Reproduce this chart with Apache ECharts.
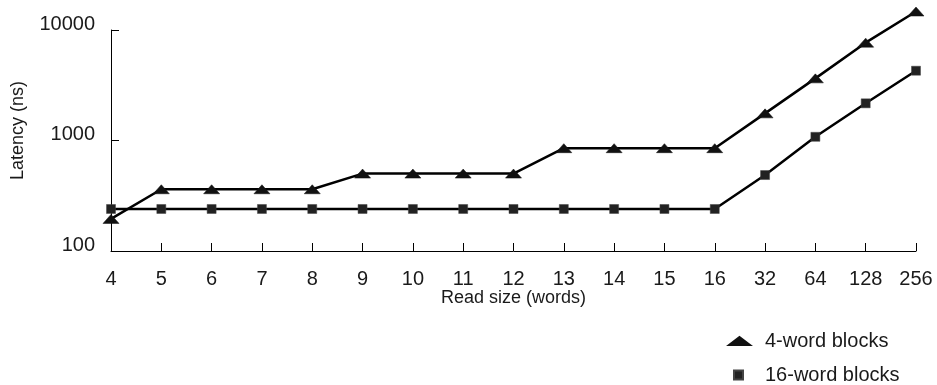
<!DOCTYPE html>
<html>
<head>
<meta charset="utf-8">
<script src="https://cdn.jsdelivr.net/npm/echarts@6/dist/echarts.min.js"></script>
<style>
  html, body { margin: 0; padding: 0; background: #fff; }
  #chart { width: 937px; height: 385px; }
</style>
</head>
<body>
<div id="chart"></div>
<script>
const categories = ['4','5','6','7','8','9','10','11','12','13','14','15','16','32','64','128','256'];
const fourWord = [195, 362, 362, 362, 362, 502, 502, 502, 502, 852, 852, 852, 852, 1760, 3650, 7680, 14700];
const sixteenWord = [240, 240, 240, 240, 240, 240, 240, 240, 240, 240, 240, 240, 240, 487, 1080, 2170, 4280];
const yTicks = [100, 1000, 10000];
const seriesNames = ['4-word blocks', '16-word blocks'];

const FONT = 'Liberation Sans';
const TXT = '#1a1a1a';

const chart = echarts.init(document.getElementById('chart'), null, { renderer: 'canvas' });
chart.setOption({
  animation: false,
  backgroundColor: '#ffffff',
  textStyle: { fontFamily: FONT, color: TXT },
  grid: { left: 111, right: 21, top: 30, bottom: 134, containLabel: false },
  xAxis: {
    type: 'category',
    data: categories,
    boundaryGap: false,
    name: 'Read size (words)',
    nameLocation: 'middle',
    nameGap: 38,
    nameMoveOverlap: false,
    nameTextStyle: { fontFamily: FONT, fontSize: 18, color: TXT },
    axisLine: { lineStyle: { color: '#000', width: 1 } },
    axisTick: { show: true, inside: true, length: 8, lineStyle: { color: '#000', width: 1 } },
    axisLabel: { fontFamily: FONT, fontSize: 20, color: TXT, margin: 18, interval: 0 },
    splitLine: { show: false }
  },
  yAxis: {
    type: 'log',
    logBase: 10,
    min: yTicks[0],
    max: yTicks[yTicks.length - 1],
    name: 'Latency (ns)',
    nameLocation: 'middle',
    nameGap: 84,
    nameRotate: 90,
    nameMoveOverlap: false,
    nameTextStyle: { fontFamily: FONT, fontSize: 18, color: TXT, padding: [0, 0, 0, 20] },
    axisLine: { show: true, lineStyle: { color: '#000', width: 1 } },
    axisTick: { show: true, inside: true, length: 8, lineStyle: { color: '#000', width: 1 } },
    axisLabel: {
      fontFamily: FONT, fontSize: 20, color: TXT, margin: 16,
      verticalAlign: 'bottom', lineHeight: 12,
      formatter: function (v) { return String(Math.round(v)); }
    },
    splitLine: { show: false }
  },
  legend: [
    {
      data: [{ name: seriesNames[0], icon: 'triangle' }],
      orient: 'vertical',
      left: 723, top: 326,
      itemWidth: 21, itemHeight: 8,
      textStyle: { fontFamily: FONT, fontSize: 20, color: TXT, padding: [0, 0, 0, 10] },
      selectedMode: false
    },
    {
      data: [{ name: seriesNames[1], icon: 'rect' }],
      orient: 'vertical',
      left: 728, top: 360,
      itemWidth: 9, itemHeight: 9,
      textStyle: { fontFamily: FONT, fontSize: 20, color: TXT, padding: [0, 0, 0, 17] },
      selectedMode: false
    }
  ],
  series: [
    {
      name: seriesNames[0],
      type: 'line',
      data: fourWord,
      clip: false,
      symbol: 'triangle',
      symbolSize: [16, 9],
      lineStyle: { color: '#000', width: 2.5 },
      itemStyle: { color: '#111', borderColor: '#111', borderWidth: 0.5 },
      z: 3
    },
    {
      name: seriesNames[1],
      type: 'line',
      data: sixteenWord,
      clip: false,
      symbol: 'rect',
      symbolSize: 9,
      lineStyle: { color: '#000', width: 2.5 },
      itemStyle: { color: '#222', borderColor: '#444', borderWidth: 0.5 },
      z: 3
    }
  ]
});
</script>
</body>
</html>
